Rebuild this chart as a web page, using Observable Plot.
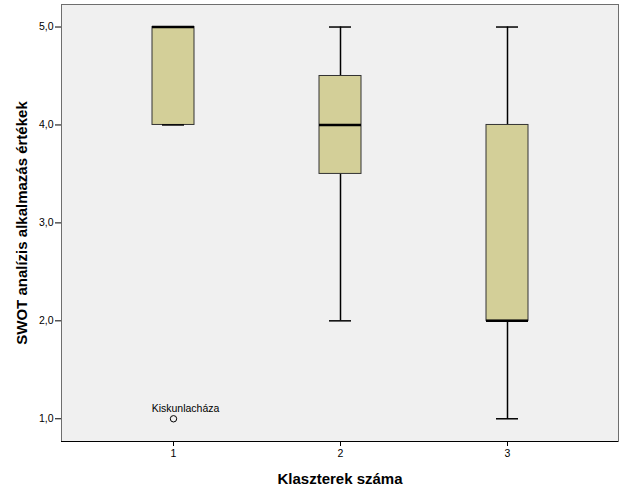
<!DOCTYPE html>
<html>
<head>
<meta charset="utf-8">
<script src="https://cdn.jsdelivr.net/npm/d3@7"></script>
<script src="https://cdn.jsdelivr.net/npm/@observablehq/plot@0.6"></script>
<style>
  body { margin: 0; background: #fff; }
  svg { display: block; }
</style>
</head>
<body>
<div id="chart"></div>
<script>
const clusters = [1, 2, 3];
const whiskerLow = [4, 2, 1];
const q1 = [4, 3.5, 2];
const median = [5, 4, 2];
const q3 = [5, 4.5, 4];
const whiskerHigh = [5, 5, 5];

const outlierCluster = [1];
const outlierValue = [1];
const outlierLabel = ["Kiskunlacháza"];

const yTicks = [1, 2, 3, 4, 5];
const xLabel = "Klaszterek száma";
const yLabel = "SWOT analízis alkalmazás értékek";

const boxes = clusters.map((c, i) => ({
  cluster: c, low: whiskerLow[i], q1: q1[i], median: median[i], q3: q3[i], high: whiskerHigh[i]
}));
const outliers = outlierCluster.map((c, i) => ({cluster: c, value: outlierValue[i], label: outlierLabel[i]}));

const chart = Plot.plot({
  width: 626,
  height: 501,
  marginLeft: 61,
  marginRight: 8,
  marginTop: 4,
  marginBottom: 60,
  style: {fontFamily: "Liberation Sans, Arial, sans-serif", fontSize: "10.5px", background: "#fff", color: "#000"},
  x: {type: "band", domain: clusters, paddingInner: 0.749, paddingOuter: 0.537},
  y: {domain: [0.768, 5.23]},
  marks: [
    Plot.frame({fill: "#f0f0f0", stroke: "#6e6e6e"}),
    Plot.ruleX(boxes, {x: "cluster", y1: "low", y2: "high", stroke: "#000", strokeWidth: 1.5}),
    Plot.barY(boxes, {x: "cluster", y1: "q1", y2: "q3", fill: "#d3cf98", stroke: "#333", strokeWidth: 1}),
    Plot.tickY(boxes, {x: "cluster", y: "low", stroke: "#000", strokeWidth: 1.5, insetLeft: 10, insetRight: 10}),
    Plot.tickY(boxes, {x: "cluster", y: "high", stroke: "#000", strokeWidth: 1.5, insetLeft: 10, insetRight: 10}),
    Plot.tickY(boxes, {x: "cluster", y: "median", stroke: "#000", strokeWidth: 2.5}),
    Plot.dot(outliers, {x: "cluster", y: "value", r: 3.2, stroke: "#000", fill: "none", strokeWidth: 1}),
    Plot.text(outliers, {x: "cluster", y: "value", text: "label", dx: 12, dy: -10, fontSize: 10.5, fill: "#000"}),
    Plot.axisY({ticks: yTicks, tickFormat: d => d.toFixed(1).replace(".", ","), tickSize: 6, tickPadding: 2,
      label: yLabel, labelAnchor: "center", labelArrow: "none", labelOffset: 45}),
    Plot.axisX({tickSize: 5, tickPadding: 3, label: xLabel, labelAnchor: "center", labelArrow: "none", labelOffset: 42}),
    Plot.ruleY([0.768], {stroke: "#000"}),
    Plot.ruleX([0], {x: () => null, stroke: "#000"})
  ]
});

// bold axis labels
chart.querySelectorAll("[aria-label='y-axis label'] text, [aria-label='x-axis label'] text").forEach(t => {
  t.setAttribute("font-weight", "bold");
  t.setAttribute("font-size", "15");
});
document.getElementById("chart").appendChild(chart);
</script>
</body>
</html>
